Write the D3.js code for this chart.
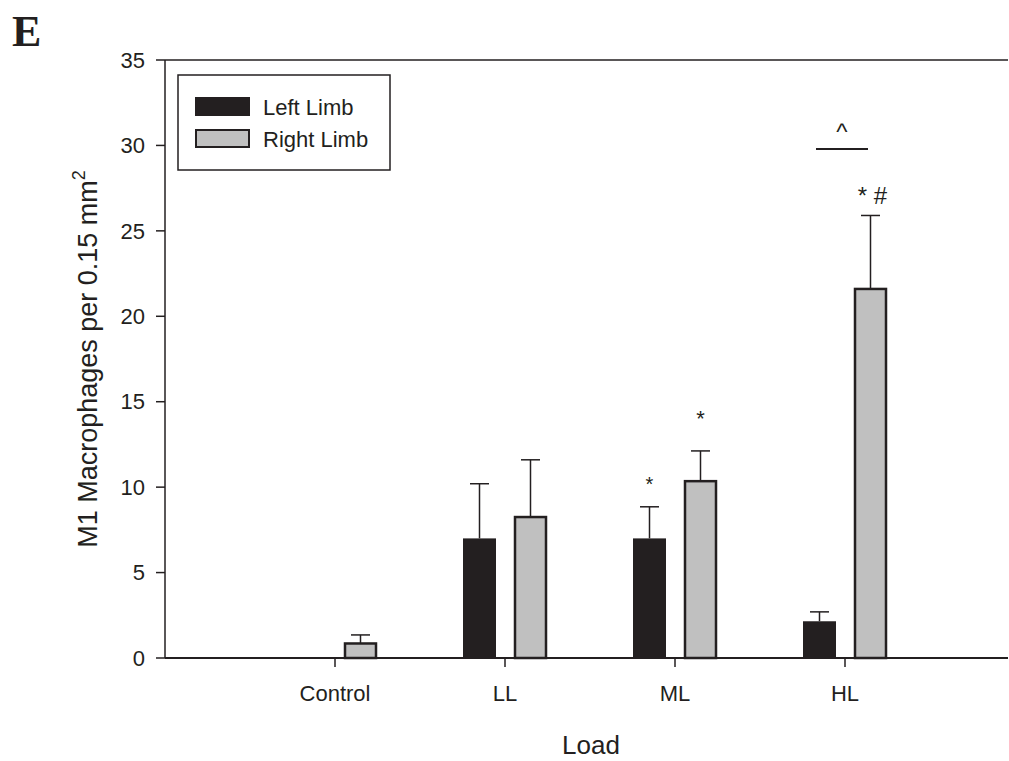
<!DOCTYPE html>
<html>
<head>
<meta charset="utf-8">
<script src="https://cdn.jsdelivr.net/npm/d3@7"></script>
<style>
  body { margin: 0; background: #fff; }
  text { fill: #231f20; }
</style>
</head>
<body>
<div id="chart"></div>
<script>
// 数据
const categories = ["Control", "LL", "ML", "HL"];
const leftLimb = [0, 7.0, 7.0, 2.15];
const leftErr = [0, 3.2, 1.85, 0.55];
const rightLimb = [0.85, 8.25, 10.35, 21.6];
const rightErr = [0.5, 3.35, 1.77, 4.3];
const yTicks = [0, 5, 10, 15, 20, 25, 30, 35];

// 尺寸
const W = 1009, H = 761;
const x0 = 165, xEnd = 1008;
const sans = "'Liberation Sans', Arial, sans-serif";
const svg = d3.select("#chart").append("svg").attr("width", W).attr("height", H)
  .style("font-family", sans);

const y = d3.scaleLinear().domain([0, 35]).range([658, 60]);
// 类别位置: 0..5 单位
const x = d3.scaleLinear().domain([0, 5]).range([x0, x0 + 850]);
const barW = 33, off = 25.5, capW = 19;
const dark = "#231f20", grey = "#c0c0c0";

// 框线
svg.append("line").attr("x1", x0).attr("x2", xEnd).attr("y1", y(35)).attr("y2", y(35))
  .attr("stroke", dark).attr("stroke-width", 1.5);
svg.append("line").attr("x1", x0).attr("x2", xEnd).attr("y1", y(0)).attr("y2", y(0))
  .attr("stroke", dark).attr("stroke-width", 2);
svg.append("line").attr("x1", x0).attr("x2", x0).attr("y1", y(0)).attr("y2", y(35))
  .attr("stroke", dark).attr("stroke-width", 1.5);

// y轴刻度
yTicks.forEach(t => {
  svg.append("line").attr("x1", x0 - 9).attr("x2", x0).attr("y1", y(t)).attr("y2", y(t))
    .attr("stroke", dark).attr("stroke-width", 1.5);
  svg.append("text").attr("x", x0 - 20).attr("y", y(t)).attr("dy", "0.35em")
    .attr("text-anchor", "end").attr("font-size", 22).text(t);
});

// x轴刻度
categories.forEach((c, i) => {
  const cx = x(i + 1);
  svg.append("line").attr("x1", cx).attr("x2", cx).attr("y1", y(0)).attr("y2", y(0) + 9)
    .attr("stroke", dark).attr("stroke-width", 1.5);
  svg.append("text").attr("x", cx).attr("y", 693).attr("dy", "0.35em")
    .attr("text-anchor", "middle").attr("font-size", 22).text(c);
});

// 误差线
function errBar(cx, v, e) {
  if (e <= 0) return;
  svg.append("line").attr("x1", cx).attr("x2", cx).attr("y1", y(v)).attr("y2", y(v + e))
    .attr("stroke", dark).attr("stroke-width", 1.5);
  svg.append("line").attr("x1", cx - capW / 2).attr("x2", cx + capW / 2)
    .attr("y1", y(v + e)).attr("y2", y(v + e)).attr("stroke", dark).attr("stroke-width", 1.5);
}

// 柱子
categories.forEach((c, i) => {
  const cx = x(i + 1);
  if (leftLimb[i] > 0) {
    errBar(cx - off, leftLimb[i], leftErr[i]);
    svg.append("rect").attr("x", cx - off - barW / 2).attr("y", y(leftLimb[i]))
      .attr("width", barW).attr("height", y(0) - y(leftLimb[i])).attr("fill", dark);
  }
  errBar(cx + off, rightLimb[i], rightErr[i]);
  svg.append("rect").attr("x", cx + off - barW / 2 + 1).attr("y", y(rightLimb[i]))
    .attr("width", barW - 2).attr("height", y(0) - y(rightLimb[i]))
    .attr("fill", grey).attr("stroke", dark).attr("stroke-width", 2.5);
});

// 显著性标记
svg.append("text").attr("x", x(3) - off).attr("y", y(9.8)).attr("text-anchor", "middle")
  .attr("font-size", 20).text("*");
svg.append("text").attr("x", x(3) + off).attr("y", y(13.6)).attr("text-anchor", "middle")
  .attr("font-size", 22).text("*");
svg.append("text").attr("x", x(4) + off + 2).attr("y", y(26.6)).attr("text-anchor", "middle")
  .attr("font-size", 24).text("* #");
svg.append("line").attr("x1", x(4) - 29).attr("x2", x(4) + 23).attr("y1", 149).attr("y2", 149)
  .attr("stroke", dark).attr("stroke-width", 2);
svg.append("text").attr("x", x(4) - 3).attr("y", 140).attr("text-anchor", "middle")
  .attr("font-size", 24).text("^");

// 图例
svg.append("rect").attr("x", 178).attr("y", 75).attr("width", 212).attr("height", 95)
  .attr("fill", "#fff").attr("stroke", dark).attr("stroke-width", 1.5);
svg.append("rect").attr("x", 195).attr("y", 97).attr("width", 55).attr("height", 19).attr("fill", dark);
svg.append("rect").attr("x", 196).attr("y", 130).attr("width", 53).attr("height", 17)
  .attr("fill", grey).attr("stroke", dark).attr("stroke-width", 2);
svg.append("text").attr("x", 263).attr("y", 107).attr("dy", "0.35em").attr("font-size", 22).text("Left Limb");
svg.append("text").attr("x", 263).attr("y", 139).attr("dy", "0.35em").attr("font-size", 22).text("Right Limb");

// 轴标题
svg.append("text").attr("transform", `translate(97,${y(17.5)}) rotate(-90)`)
  .attr("text-anchor", "middle").attr("font-size", 27)
  .html('M1 Macrophages per 0.15 mm<tspan dy="-12" font-size="18">2</tspan>');
svg.append("text").attr("x", 591).attr("y", 745).attr("dy", "0.35em").attr("text-anchor", "middle")
  .attr("font-size", 26).text("Load");

// 面板字母
svg.append("text").attr("x", 12).attr("y", 46).attr("font-size", 44).attr("font-weight", "bold")
  .style("font-family", "'Liberation Serif', 'DejaVu Serif', serif").text("E");
</script>
</body>
</html>
